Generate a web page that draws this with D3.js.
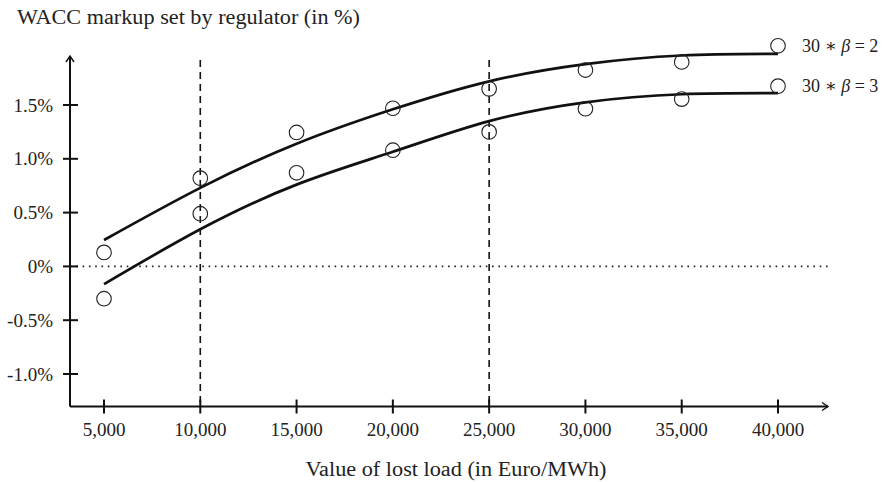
<!DOCTYPE html>
<html>
<head>
<meta charset="utf-8">
<script src="https://cdn.jsdelivr.net/npm/d3@7/dist/d3.min.js"></script>
<style>
  body { margin: 0; background: #fff; }
  svg text { font-family: "Liberation Serif", "DejaVu Serif", serif; fill: #222; }
</style>
</head>
<body>
<div id="drawing"></div>
<script>
// value of lost load (Euro/MWh)
var vollValues = [5000, 10000, 15000, 20000, 25000, 30000, 35000, 40000];
// WACC markup (%) per scenario
var beta2Points = [0.13, 0.82, 1.245, 1.47, 1.65, 1.825, 1.90, 2.05];
var beta3Points = [-0.30, 0.49, 0.87, 1.08, 1.25, 1.465, 1.555, 1.675];
// fitted curves at the same x values
var beta2Fit = [0.245, 0.73, 1.14, 1.46, 1.72, 1.88, 1.96, 1.975];
var beta3Fit = [-0.165, 0.345, 0.76, 1.065, 1.35, 1.525, 1.60, 1.61];
var seriesNames = ["2", "3"];

var xTickValues = vollValues;
var yTickValues = [-1.0, -0.5, 0, 0.5, 1.0, 1.5];
var yTickLabels = ["-1.0%", "-0.5%", "0%", "0.5%", "1.0%", "1.5%"];
var markedVoll = [10000, 25000];

var width = 894;
var height = 482;
var axisLeft = 70, axisRight = 828, axisTop = 56, axisBottom = 406.5;

var xScale = d3.scaleLinear().domain([5000, 40000]).range([104, 778]);
var yScale = d3.scaleLinear().domain([-1, 1.5]).range([374, 105]);

var svg = d3.select("#drawing").append("svg")
  .attr("width", width)
  .attr("height", height);

// reference lines
svg.append("line")
  .attr("x1", axisLeft).attr("x2", axisRight)
  .attr("y1", yScale(0)).attr("y2", yScale(0))
  .attr("stroke", "#222").attr("stroke-width", 1.6)
  .attr("stroke-dasharray", "1.6,4.7");

svg.selectAll(".vmark")
  .data(markedVoll)
  .enter().append("line")
  .attr("class", "vmark")
  .attr("x1", d => xScale(d)).attr("x2", d => xScale(d))
  .attr("y1", 60).attr("y2", axisBottom)
  .attr("stroke", "#111").attr("stroke-width", 1.6)
  .attr("stroke-dasharray", "7,5");

// axes
var axes = svg.append("g")
  .attr("stroke", "#111")
  .attr("stroke-width", 2)
  .attr("fill", "none");

axes.append("path")
  .attr("d", `M${axisLeft},${axisBottom}V${axisTop}M${axisLeft},${axisBottom}H${axisRight}`);
axes.append("path")
  .attr("stroke-width", 1.4)
  .attr("d", `M${axisLeft - 4},${axisTop + 6}L${axisLeft},${axisTop}L${axisLeft + 4},${axisTop + 6}` +
             `M${axisRight - 6},${axisBottom - 4}L${axisRight},${axisBottom}L${axisRight - 6},${axisBottom + 4}`);

axes.selectAll(".xtick")
  .data(xTickValues)
  .enter().append("line")
  .attr("x1", d => xScale(d)).attr("x2", d => xScale(d))
  .attr("y1", axisBottom - 7).attr("y2", axisBottom + 7);

axes.selectAll(".ytick")
  .data(yTickValues)
  .enter().append("line")
  .attr("x1", axisLeft - 7).attr("x2", axisLeft + 8)
  .attr("y1", d => yScale(d)).attr("y2", d => yScale(d));

svg.selectAll(".xlabel")
  .data(xTickValues)
  .enter().append("text")
  .attr("x", d => xScale(d))
  .attr("y", 436)
  .attr("text-anchor", "middle")
  .style("font-size", "19px")
  .text(d => d3.format(",")(d));

svg.selectAll(".ylabel")
  .data(yTickValues)
  .enter().append("text")
  .attr("x", 53)
  .attr("y", d => yScale(d))
  .attr("dy", "0.35em")
  .attr("text-anchor", "end")
  .style("font-size", "19px")
  .text((d, i) => yTickLabels[i]);

// fitted curves
var fitLine = d3.line()
  .x((d, i) => xScale(vollValues[i]))
  .y(d => yScale(d))
  .curve(d3.curveNatural);

svg.selectAll(".fit")
  .data([beta2Fit, beta3Fit])
  .enter().append("path")
  .attr("d", fitLine)
  .attr("fill", "none")
  .attr("stroke", "#111")
  .attr("stroke-width", 2.7);

// observed points
[beta2Points, beta3Points].forEach(function(pts) {
  svg.append("g").selectAll("circle")
    .data(pts)
    .enter().append("circle")
    .attr("cx", (d, i) => xScale(vollValues[i]))
    .attr("cy", d => yScale(d))
    .attr("r", 7.3)
    .attr("fill", "none")
    .attr("stroke", "#222")
    .attr("stroke-width", 1.1);
});

// series labels next to the last point
var labels = svg.selectAll(".slabel")
  .data([beta2Points, beta3Points])
  .enter().append("text")
  .attr("x", xScale(40000) + 24)
  .attr("y", d => yScale(d[d.length - 1]))
  .attr("dy", "0.35em")
  .style("font-size", "18px");
labels.append("tspan").text("30 \u2217 ");
labels.append("tspan").style("font-style", "italic").text("\u03B2");
labels.append("tspan").text((d, i) => " = " + seriesNames[i]);

// titles
svg.append("text")
  .attr("x", 17).attr("y", 24)
  .style("font-size", "20px")
  .attr("textLength", 343)
  .attr("lengthAdjust", "spacingAndGlyphs")
  .text("WACC markup set by regulator (in %)");

svg.append("text")
  .attr("x", 456).attr("y", 476)
  .attr("text-anchor", "middle")
  .style("font-size", "20px")
  .attr("textLength", 301)
  .attr("lengthAdjust", "spacingAndGlyphs")
  .text("Value of lost load (in Euro/MWh)");
</script>
</body>
</html>
